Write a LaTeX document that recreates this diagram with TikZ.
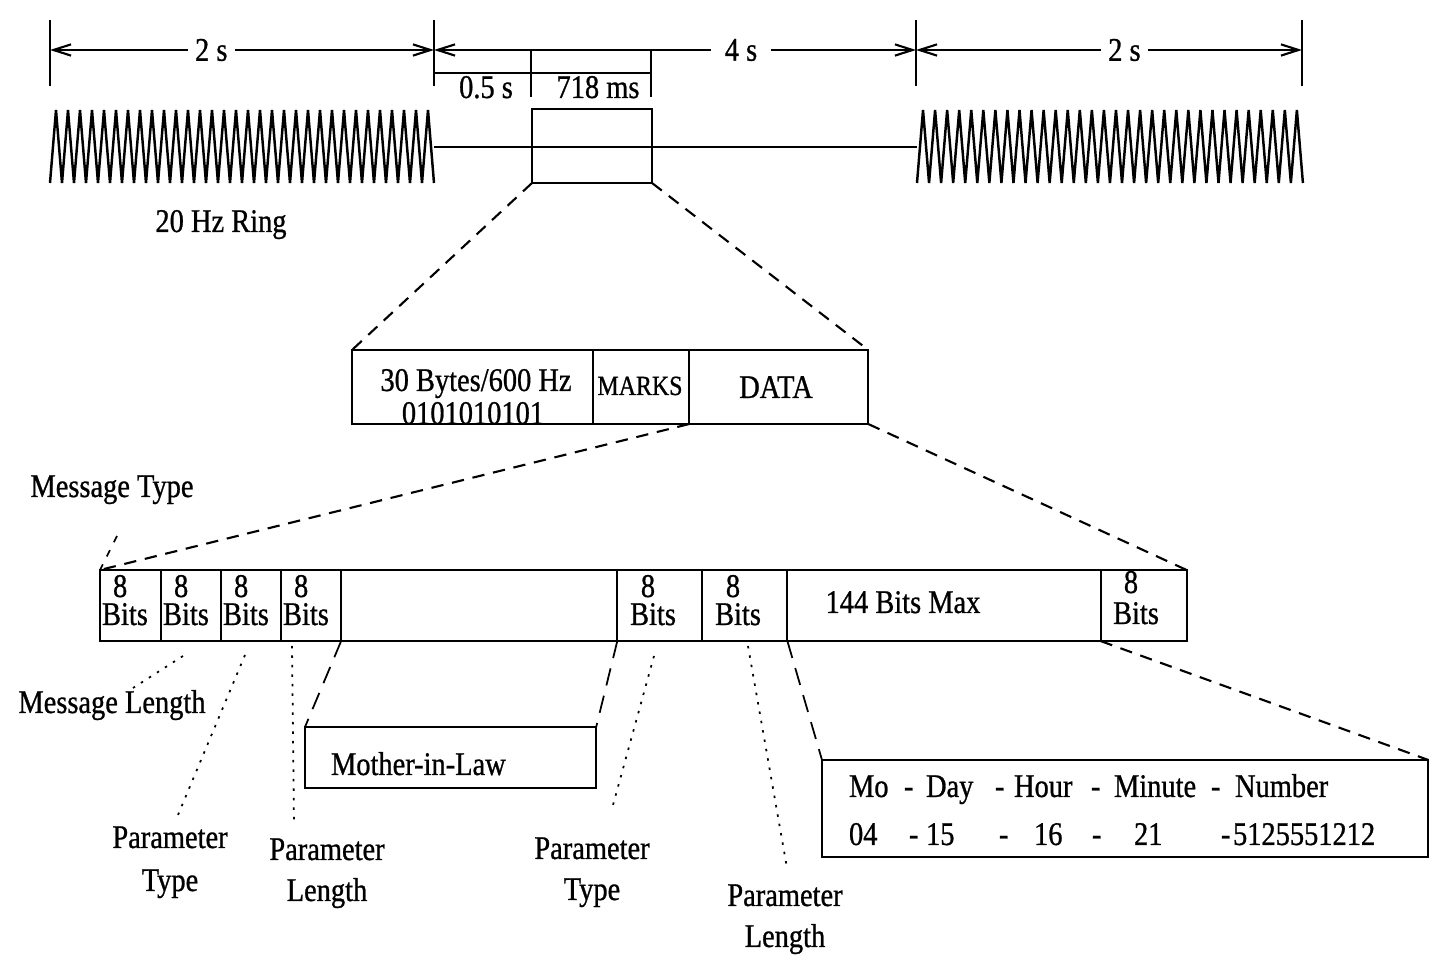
\documentclass[tikz,border=0pt]{standalone}
\usepackage{fontspec}
\setmainfont[FakeStretch=0.86, FakeBold=0.8]{Liberation Serif}
\usepackage{tikz}
\usetikzlibrary{arrows}
\usetikzlibrary{arrows.meta}
\usetikzlibrary{calc}
\tikzstyle{cell} = [rectangle, draw, line width=0.6pt, inner sep=0pt, outer sep=0pt, anchor=north west]
\tikzstyle{dimline} = [line width=0.6pt, {Straight Barb[length=5pt,width=3.2pt]}-{Straight Barb[length=5pt,width=3.2pt]}]
\tikzstyle{dimlbl} = [fill=white, inner xsep=2pt, inner ysep=1pt]
\tikzstyle{zoomdash} = [line width=0.6pt, dash pattern=on 3.5pt off 2.5pt]
\tikzstyle{longdash} = [line width=0.5pt, dash pattern=on 5pt off 3pt]
\tikzstyle{dotline} = [line width=0.5pt, dash pattern=on 0.7pt off 2pt]
\tikzstyle{txt} = [inner sep=0pt, anchor=base]
\tikzstyle{txtl} = [inner sep=0pt, anchor=base west]

\begin{document}
\begin{tikzpicture}[x=0.01cm, y=-0.01cm, line width=0.6pt, font=\fontsize{9.4}{11}\selectfont]
				\useasboundingbox (0,0) rectangle (1438,964);
				\coordinate (d1) at (50,50);
				\coordinate (d2) at (434,50);
				\coordinate (d3) at (916,50);
				\coordinate (d4) at (1302,50);
				\coordinate (s1) at (434,73);
				\coordinate (s2) at (651,73);
				%%%%%%%%%%%%%%%%%%%%%%%%%%%%%%%%%%
				\foreach \x in {50,434,916,1302} \draw (\x,20) -- (\x,86);
				\draw (531,50) -- (531,97);
				\draw (651,50) -- (651,97);
				\draw[dimline] (d1) -- node[dimlbl, pos=0.42] (twoL) {2 s} (d2);
				\draw[dimline] (d2) -- node[dimlbl, pos=0.637, inner xsep=4pt] (four) {4 s} (d3);
				\draw[dimline] (d3) -- node[dimlbl, pos=0.54] (twoR) {2 s} (d4);
				\draw (s1) -- (s2);
				\node[txt] (half) at (486,98) {0.5 s};
				\node[txt] (ms) at (598,98) {718 ms};
				%%%%%%%%%%%%%%%%%%%%%%%%%%%%%%%%%%
				\draw[line width=0.7pt] (50,183) \foreach \i in {0,...,31} {-- ({50+(\i+0.5)*12},110) -- ({50+(\i+1)*12},183)};
				\draw (434,147) -- (917,147);
				\draw[line width=0.7pt] (917,183) \foreach \i in {0,...,31} {-- ({917+(\i+0.5)*12.06},110) -- ({917+(\i+1)*12.06},183)};
				\node[cell, minimum width=1.2cm, minimum height=0.74cm] (pulse) at (532,109) {};
				\node[txt] (ring) at (221,232) {20 Hz Ring};
				%%%%%%%%%%%%%%%%%%%%%%%%%%%%%%%%%%
				\node[cell, minimum width=2.41cm, minimum height=0.74cm] (pre) at (352,350) {};
				\node[cell, minimum width=0.96cm, minimum height=0.74cm] (marks) at (pre.north east) {};
				\node[cell, minimum width=1.79cm, minimum height=0.74cm] (data) at (marks.north east) {};
				\node[txt] (preA) at (476,391) {30 Bytes/600 Hz};
				\node[txt] (preB) at (473,424) {0101010101};
				\node[txt, font=\fontsize{7.9}{9}\selectfont] (marksT) at (640,395) {MARKS};
				\node[txt] (dataT) at (776,398) {DATA};
				\draw[zoomdash] (pulse.south west) -- (pre.north west);
				\draw[zoomdash] (pulse.south east) -- (data.north east);
				%%%%%%%%%%%%%%%%%%%%%%%%%%%%%%%%%%
				\node[cell, minimum width=0.61cm, minimum height=0.71cm] (c1) at (100,570) {};
				\node[cell, minimum width=0.60cm, minimum height=0.71cm] (c2) at (c1.north east) {};
				\node[cell, minimum width=0.60cm, minimum height=0.71cm] (c3) at (c2.north east) {};
				\node[cell, minimum width=0.60cm, minimum height=0.71cm] (c4) at (c3.north east) {};
				\node[cell, minimum width=2.76cm, minimum height=0.71cm] (c5) at (c4.north east) {};
				\node[cell, minimum width=0.85cm, minimum height=0.71cm] (c6) at (c5.north east) {};
				\node[cell, minimum width=0.85cm, minimum height=0.71cm] (c7) at (c6.north east) {};
				\node[cell, minimum width=3.13cm, minimum height=0.71cm] (c8) at (c7.north east) {};
				\node[cell, minimum width=0.86cm, minimum height=0.71cm] (c9) at (c8.north east) {};
				\foreach \n/\x in {1/100,2/161,3/221,4/281} {
					\node[txtl] (e\n) at (\x+12,597) {8};
					\node[txtl] (b\n) at (\x+1,625) {Bits};
				}
				\node[txt] (e6) at (648,597) {8};
				\node[txt] (b6) at (653,625) {Bits};
				\node[txt] (e7) at (733,597) {8};
				\node[txt] (b7) at (738,625) {Bits};
				\node[txt] (max) at (903,613) {144 Bits Max};
				\node[txt] (e9) at (1131,593) {8};
				\node[txt] (b9) at (1136,624) {Bits};
				\draw[zoomdash] (data.south west) -- (c1.north west);
				\draw[zoomdash] (data.south east) -- (c9.north east);
				%%%%%%%%%%%%%%%%%%%%%%%%%%%%%%%%%%
				\node[txt] (mtype) at (112,497) {Message Type};
				\coordinate (mtA) at (117,536);
				\draw[dotline, dash pattern=on 2pt off 2.5pt] (mtA) -- (c1.north west);
				\node[txt] (mlen) at (112,713) {Message Length};
				\coordinate (mlA) at (183,656);
				\coordinate (mlB) at (133,688);
				\draw[dotline] (mlA) -- (mlB);
				\node[txt] (pt1a) at (170,848) {Parameter};
				\node[txt] (pt1b) at (170,891) {Type};
				\coordinate (pt1A) at (245,655);
				\coordinate (pt1B) at (178,815);
				\draw[dotline] (pt1A) -- (pt1B);
				\node[txt] (pl1a) at (327,860) {Parameter};
				\node[txt] (pl1b) at (327,901) {Length};
				\coordinate (pl1A) at (292,646);
				\coordinate (pl1B) at (294,822);
				\draw[dotline] (pl1A) -- (pl1B);
				\node[txt] (pt2a) at (592,859) {Parameter};
				\node[txt] (pt2b) at (592,900) {Type};
				\coordinate (pt2A) at (654,656);
				\coordinate (pt2B) at (613,805);
				\draw[dotline] (pt2A) -- (pt2B);
				\node[txt] (pl2a) at (785,906) {Parameter};
				\node[txt] (pl2b) at (785,947) {Length};
				\coordinate (pl2A) at (748,646);
				\coordinate (pl2B) at (787,868);
				\draw[dotline] (pl2A) -- (pl2B);
				%%%%%%%%%%%%%%%%%%%%%%%%%%%%%%%%%%
				\node[cell, minimum width=2.91cm, minimum height=0.61cm] (mil) at (305,727) {};
				\node[txtl] (milT) at (330,775) {Mother-in-Law};
				\draw[longdash] (c5.south west) -- (mil.north west);
				\draw[longdash] (c5.south east) -- (mil.north east);
				\node[cell, minimum width=6.06cm, minimum height=0.97cm] (date) at (822,760) {};
				\draw[longdash] (c8.south west) -- (date.north west);
				\draw[zoomdash] (c8.south east) -- (date.north east);
				\foreach \x/\t [count=\k] in {848/Mo, 903/-, 925/Day, 994/-, 1013/Hour, 1090/-, 1113/Minute, 1210/-, 1234/Number}
					\node[txtl] (ra\k) at (\x,797) {\t};
				\foreach \x/\t [count=\k] in {848/04, 908/-, 925/15, 998/-, 1033/16, 1091/-, 1133/21, 1220/-, 1232/5125551212}
					\node[txtl] (rb\k) at (\x,845) {\t};
%				\node at (date.center) {};
			\end{tikzpicture}
\end{document}
